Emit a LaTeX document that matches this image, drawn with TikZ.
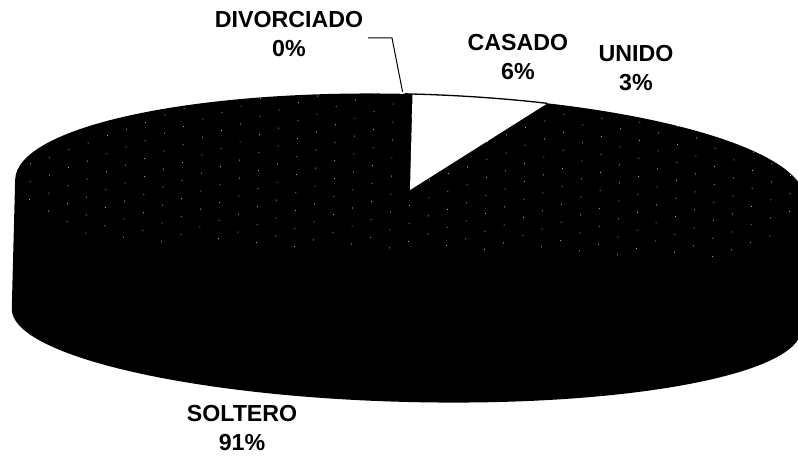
\documentclass[tikz,border=0pt]{standalone}
\usepackage{fontspec}
\setmainfont{Liberation Sans}
\begin{document}
\begin{tikzpicture}[x=1pt,y=1pt,
  lbl/.style={align=center,font=\bfseries\fontsize{23.2}{29}\selectfont,inner sep=0pt},
  leader/.style={line width=1pt},
  hatch/.style={white,line width=0.5pt,dash pattern=on 1pt off 17pt}]
\useasboundingbox (0,0) rectangle (798,457);
\clip (0,0) rectangle (798,457);
\begin{scope}[shift={(410,267)},rotate=-1.5]
  % pie body (top face + side)
  \fill[black] (-395,0) arc[start angle=180,end angle=0,x radius=395,y radius=96]
     -- (395,-129) arc[start angle=0,end angle=-180,x radius=395,y radius=83] -- cycle;
  % sparse hatch texture on top face
  \begin{scope}
    \clip (0,0) ellipse [x radius=395, y radius=96];
    \foreach \i [count=\k] in {-380,-361,...,380}
      \draw[hatch,dash phase={mod(\k*7,17)}] (\i,100) -- (\i,-60);
  \end{scope}
  % CASADO slice
  \fill[white] (0,0) -- (0,96) arc[start angle=90,end angle=70,x radius=395,y radius=96] -- cycle;
  \draw[line width=1.3pt] (-8,96) -- (0,96) arc[start angle=90,end angle=70,x radius=395,y radius=96];
  \coordinate (divtip) at (-10,98);
\end{scope}
\node[lbl] (div) at (289,423) {DIVORCIADO\\0\%};
\node[lbl] (cas) at (518,400) {CASADO\\6\%};
\node[lbl] (uni) at (636,389) {UNIDO\\3\%};
\node[lbl] (sol) at (242,29) {SOLTERO\\91\%};
\coordinate (lcorner) at (392,419);
\coordinate (lend) at (368,419);
\draw[leader] (divtip) -- (lcorner) -- (lend);
\end{tikzpicture}
\end{document}
